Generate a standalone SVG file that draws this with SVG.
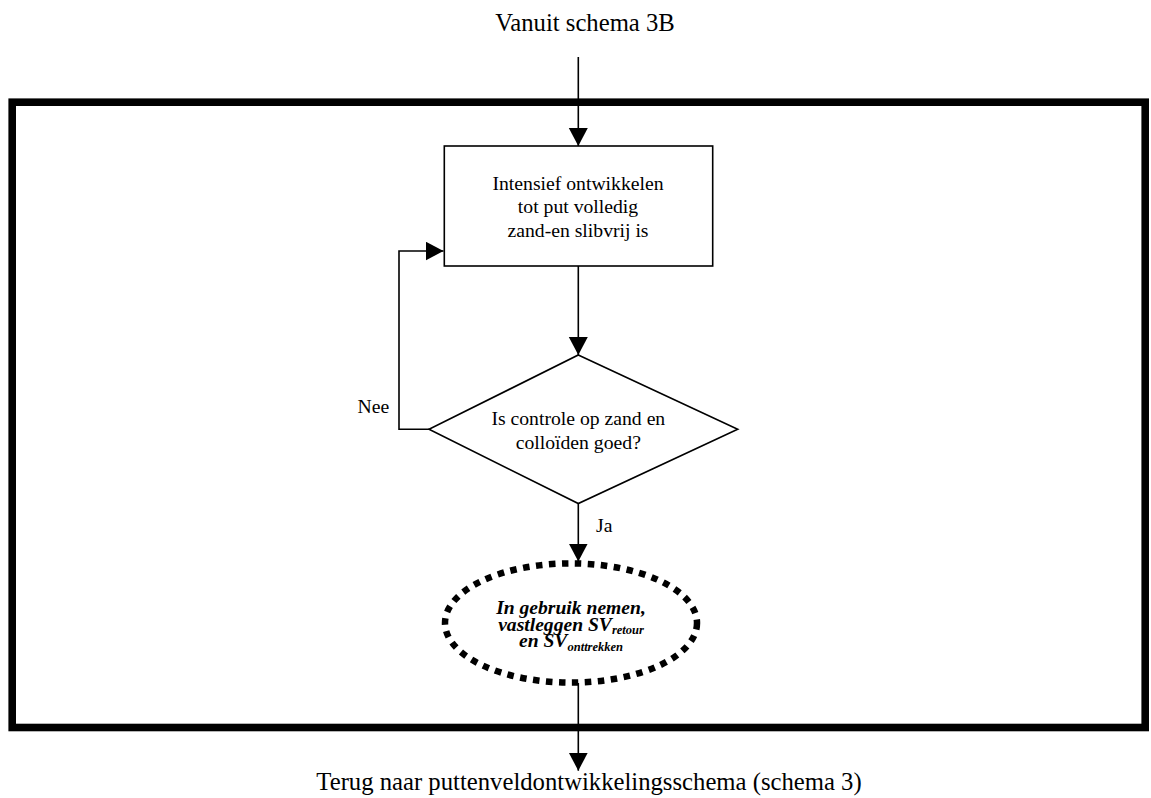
<svg xmlns="http://www.w3.org/2000/svg" width="1151" height="798" viewBox="0 0 1151 798">
  <style>
    text { font-family: "Liberation Serif", "Times New Roman", serif; fill: #000; }
    .big { font-size: 24.7px; }
    .std { font-size: 19.7px; }
    .em { font-weight: bold; font-style: italic; font-size: 19.6px; }
    .sub { font-size: 12.5px; }
    .shape { fill: #fff; stroke: #000; stroke-width: 1.6; }
    .wire { fill: none; stroke: #000; stroke-width: 1.6; }
  </style>
  <defs>
    <marker id="arrow" markerUnits="userSpaceOnUse" markerWidth="19" markerHeight="20" refX="18" refY="9.5" orient="auto">
      <path d="M0,0 L18,9.5 L0,19 z" fill="#000"/>
    </marker>
  </defs>

  <rect width="1151" height="798" fill="#fff"/>

  <!-- connectors -->
  <g id="connectors">
    <path class="wire" d="M578.3,57 V146" marker-end="url(#arrow)"/>
    <path class="wire" d="M578.3,266 V355" marker-end="url(#arrow)"/>
    <path class="wire" d="M429,429.3 H399 V251 H443.5" marker-end="url(#arrow)"/>
    <path class="wire" d="M578.3,503.5 V561.5" marker-end="url(#arrow)"/>
    <path class="wire" d="M578.3,683 V770.7" marker-end="url(#arrow)"/>
  </g>

  <!-- surrounding frame -->
  <rect id="frame" x="12.2" y="102.2" width="1133" height="625.3" fill="none" stroke="#000" stroke-width="7.6"/>

  <!-- entry label -->
  <g id="start">
    <text class="big" x="585" y="30.5" text-anchor="middle">Vanuit schema 3B</text>
  </g>

  <!-- development step -->
  <g id="develop">
    <rect class="shape" x="444.3" y="146" width="268.4" height="120"/>
    <text class="std" x="578" y="190" text-anchor="middle">Intensief ontwikkelen</text>
    <text class="std" x="578" y="213.4" text-anchor="middle">tot put volledig</text>
    <text class="std" x="578" y="236.8" text-anchor="middle">zand-en slibvrij is</text>
  </g>

  <!-- decision -->
  <g id="check">
    <polygon class="shape" points="578.3,355 737.7,429.3 578.3,503.5 429,429.3"/>
    <text class="std" x="578.3" y="425.3" text-anchor="middle">Is controle op zand en</text>
    <text class="std" x="578.3" y="449.3" text-anchor="middle">colloïden goed?</text>
  </g>

  <g id="label-nee">
    <text class="std" x="373.3" y="413.3" text-anchor="middle">Nee</text>
  </g>
  <g id="label-ja">
    <text class="std" x="596" y="531.7">Ja</text>
  </g>

  <!-- commissioning -->
  <g id="commission">
    <ellipse cx="571" cy="623" rx="126" ry="59.6" fill="#fff" stroke="#000" stroke-width="6.5" stroke-dasharray="6.5 6.5"/>
    <text class="em" x="571" y="614" text-anchor="middle">In gebruik nemen,</text>
    <text class="em" x="571" y="630.8" text-anchor="middle">vastleggen SV<tspan class="sub" dy="3">retour</tspan></text>
    <text class="em" x="571" y="647" text-anchor="middle">en SV<tspan class="sub" dy="4">onttrekken</tspan></text>
  </g>

  <!-- exit label -->
  <g id="end">
    <text class="big" x="589" y="790" text-anchor="middle">Terug naar puttenveldontwikkelingsschema (schema 3)</text>
  </g>
</svg>
